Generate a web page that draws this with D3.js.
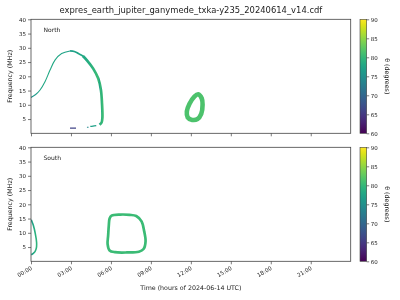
<!DOCTYPE html>
<html>
<head>
<meta charset="utf-8">
<script src="https://cdn.jsdelivr.net/npm/d3@7"></script>
<style>
	body { margin: 0; background: #fff; }
	svg { will-change: transform; }
	text { font-family: "DejaVu Sans", sans-serif; fill: #222; }
	.frame { fill: none; stroke: #444; stroke-width: 0.8; }
	.axis path { display: none; }
	.axis line { stroke: #444; stroke-width: 0.7; }
	.axis text { font-size: 5.5px; fill: #222; }
</style>
</head>
<body>
<script>
//chart values
var titleText = "expres_earth_jupiter_ganymede_txka-y235_20240614_v14.cdf";
var hemispheres = ["North", "South"];
var timeTicks = [0, 3, 6, 9, 12, 15, 18, 21];
var timeTickLabels = ["00:00", "03:00", "06:00", "09:00", "12:00", "15:00", "18:00", "21:00"];
var freqTicks = [5, 10, 15, 20, 25, 30, 35, 40];
var thetaTicks = [60, 65, 70, 75, 80, 85, 90];

//north: rising branch of the big arc (hours, MHz, degrees)
var northRiseTime = [0.0, 0.35, 0.68, 1.05, 1.43, 1.8, 2.3, 2.93];
var northRiseFreq = [12.6, 13.6, 15.2, 18.1, 22.2, 25.7, 28.0, 28.9];
var northRiseTheta = [75, 76.5, 77.5, 78, 78, 78, 77.5, 77];

//north: top of the arc, past the peak
var northTopTime = [2.93, 3.25, 3.55, 3.9, 4.2];
var northTopFreq = [28.9, 28.7, 28.0, 27.1, 25.6];
var northTopTheta = [77, 77, 77.5, 78, 78.5];

//north: falling branch of the big arc
var northFallTime = [3.9, 4.2, 4.67, 5.05, 5.25, 5.33, 5.36, 5.3, 5.15];
var northFallFreq = [27.1, 25.6, 22.7, 19.2, 15.2, 10.5, 5.5, 3.8, 3.0];
var northFallTheta = [78, 78.5, 79.5, 80.5, 81, 81, 80.5, 79, 77.5];

//north: low frequency fragments
var northLowTime = [4.45, 4.65, 4.9];
var northLowFreq = [2.4, 2.5, 2.7];
var northLowTheta = [77, 77, 77];
var northDotTime = [4.2, 4.32];
var northDotFreq = [2.1, 2.1];
var northDotTheta = [74, 74];
var northDashTime = [2.93, 3.38];
var northDashFreq = [1.85, 1.85];
var northDashTheta = [66, 66];

//north: closed loop around noon
var northLoopTime = [12.55, 12.82, 12.88, 12.78, 12.5, 12.1, 11.76, 11.7, 11.9, 12.25];
var northLoopFreq = [13.7, 12.2, 10.0, 6.8, 5.0, 4.7, 5.6, 7.7, 10.4, 12.8];
var northLoopTheta = 81.5;

//south: arc at the start of the day
var southArcTime = [0.02, 0.17, 0.32, 0.42, 0.4, 0.3, 0.17, 0.02];
var southArcFreq = [14.6, 12.7, 9.8, 6.6, 4.6, 3.4, 2.8, 2.3];
var southArcTheta = [77, 78, 79, 79.5, 79.5, 79, 78, 76];

//south: closed loop in the morning
var southLoopTime = [6.05, 6.7, 7.4, 7.9, 8.3, 8.5, 8.6, 8.45, 8.1, 7.2, 6.3, 5.9, 5.75, 5.79, 5.84, 5.9];
var southLoopFreq = [16.0, 16.4, 16.3, 15.9, 14.0, 10.5, 7.0, 4.3, 3.35, 3.1, 3.2, 3.8, 6.0, 9.0, 12.5, 15.0];
var southLoopTheta = 80.5;

//page set up
var width = 400,
	height = 300,
	plotLeft = 31,
	plotRight = 350.7,
	panelTops = [19.3, 147.3],
	panelHeight = 114,
	barLeft = 360,
	barWidth = 6.7;

var svg = d3.select("body")
	.append("svg")
	.attr("width", width)
	.attr("height", height);

var x = d3.scaleLinear()
	.domain([0, 24])
	.range([plotLeft, plotRight]);

var color = d3.scaleSequential(d3.interpolateViridis)
	.domain([60, 90]);

//gradient for the colorbar
var defs = svg.append("defs");
var barGrad = defs.append("linearGradient")
	.attr("id", "barGrad")
	.attr("x1", 0).attr("y1", 1)
	.attr("x2", 0).attr("y2", 0);
d3.range(0, 1.01, 0.05).forEach(function(p){
	barGrad.append("stop")
		.attr("offset", p)
		.attr("stop-color", d3.interpolateViridis(p));
});

//title
svg.append("text")
	.attr("x", (plotLeft + plotRight) / 2)
	.attr("y", 13)
	.attr("text-anchor", "middle")
	.style("font-size", "8.4px")
	.text(titleText);

//curves for each panel
var panelCurves = [
	[
		{id: "nRise", t: northRiseTime, f: northRiseFreq, th: northRiseTheta, w: 1.1},
		{id: "nTop", t: northTopTime, f: northTopFreq, th: northTopTheta, w: 1.7},
		{id: "nFall", t: northFallTime, f: northFallFreq, th: northFallTheta, w: 2.7},
		{id: "nLow", t: northLowTime, f: northLowFreq, th: northLowTheta, w: 1.2},
		{id: "nDot", t: northDotTime, f: northDotFreq, th: northDotTheta, w: 1.1},
		{id: "nDash", t: northDashTime, f: northDashFreq, th: northDashTheta, w: 1.2},
		{id: "nLoop", t: northLoopTime, f: northLoopFreq, th: northLoopTheta, w: 4.6, closed: true}
	],
	[
		{id: "sArc", t: southArcTime, f: southArcFreq, th: southArcTheta, w: 1.6},
		{id: "sLoop", t: southLoopTime, f: southLoopFreq, th: southLoopTheta, w: 2.7, closed: true}
	]
];

hemispheres.forEach(function(name, i){
	var top = panelTops[i];
	var y = d3.scaleLinear()
		.domain([0, 40])
		.range([top + panelHeight, top]);

	var panel = svg.append("g").attr("class", "panel");

	//clip to the plot area
	defs.append("clipPath")
		.attr("id", "clip" + i)
		.append("rect")
		.attr("x", plotLeft)
		.attr("y", top)
		.attr("width", plotRight - plotLeft)
		.attr("height", panelHeight);

	var marks = panel.append("g").attr("clip-path", "url(#clip" + i + ")");

	panelCurves[i].forEach(function(c){
		var pts = c.t.map(function(t, k){ return [t, c.f[k]]; });
		var line = d3.line()
			.x(function(d){ return x(d[0]); })
			.y(function(d){ return y(d[1]); })
			.curve(c.closed ? d3.curveCatmullRomClosed : d3.curveCatmullRom);

		var stroke;
		if (Array.isArray(c.th)){
			//horizontal gradient following the theta values
			var xs = c.t.map(function(t){ return x(t); });
			var x0 = d3.min(xs), x1 = d3.max(xs);
			if (x1 - x0 < 0.5){
				stroke = color(d3.mean(c.th));
			} else {
				var g = defs.append("linearGradient")
					.attr("id", "g_" + c.id)
					.attr("gradientUnits", "userSpaceOnUse")
					.attr("x1", x0).attr("x2", x1)
					.attr("y1", 0).attr("y2", 0);
				var order = d3.range(xs.length).sort(function(a, b){ return xs[a] - xs[b]; });
				order.forEach(function(k){
					g.append("stop")
						.attr("offset", (xs[k] - x0) / (x1 - x0))
						.attr("stop-color", color(c.th[k]));
				});
				stroke = "url(#g_" + c.id + ")";
			}
		} else {
			stroke = color(c.th);
		}

		marks.append("path")
			.datum(pts)
			.attr("d", line)
			.attr("fill", "none")
			.attr("stroke", stroke)
			.attr("stroke-width", c.w)
			.attr("stroke-linejoin", "round")
			.attr("stroke-linecap", "butt");
	});

	//y axis
	panel.append("g")
		.attr("class", "axis")
		.attr("transform", "translate(" + plotLeft + ",0)")
		.call(d3.axisLeft(y).tickValues(freqTicks).tickSize(3).tickPadding(2));

	//x axis
	var xAxis = panel.append("g")
		.attr("class", "axis")
		.attr("transform", "translate(0," + (top + panelHeight) + ")")
		.call(d3.axisBottom(x).tickValues(timeTicks).tickSize(3)
			.tickFormat(function(d, k){ return i == 1 ? timeTickLabels[k] : ""; }));

	xAxis.selectAll("text")
		.attr("text-anchor", "end")
		.attr("dy", 0)
		.attr("y", 0)
		.attr("transform", "translate(1,8) rotate(-30)");

	//frame
	panel.append("rect")
		.attr("class", "frame")
		.attr("x", plotLeft)
		.attr("y", top)
		.attr("width", plotRight - plotLeft)
		.attr("height", panelHeight);

	//hemisphere label
	panel.append("text")
		.attr("x", 43.5)
		.attr("y", top + 12.5)
		.style("font-size", "6px")
		.text(name);

	//y label
	panel.append("text")
		.attr("transform", "translate(12," + (top + panelHeight / 2) + ") rotate(-90)")
		.attr("text-anchor", "middle")
		.style("font-size", "6.3px")
		.text("Frequency (MHz)");

	//colorbar
	var barScale = d3.scaleLinear()
		.domain([60, 90])
		.range([top + panelHeight, top]);

	panel.append("rect")
		.attr("x", barLeft)
		.attr("y", top)
		.attr("width", barWidth)
		.attr("height", panelHeight)
		.attr("fill", "url(#barGrad)")
		.attr("stroke", "#444")
		.attr("stroke-width", 0.6);

	panel.append("g")
		.attr("class", "axis")
		.attr("transform", "translate(" + (barLeft + barWidth) + ",0)")
		.call(d3.axisRight(barScale).tickValues(thetaTicks).tickSize(2.5).tickPadding(1.5));

	panel.append("text")
		.attr("transform", "translate(385," + (top + panelHeight / 2) + ") rotate(90)")
		.attr("text-anchor", "middle")
		.style("font-size", "6.3px")
		.text("\u03b8 (degrees)");
});

//x label
svg.append("text")
	.attr("x", (plotLeft + plotRight) / 2)
	.attr("y", 289.5)
	.attr("text-anchor", "middle")
	.style("font-size", "6.3px")
	.text("Time (hours of 2024-06-14 UTC)");
</script>
</body>
</html>
